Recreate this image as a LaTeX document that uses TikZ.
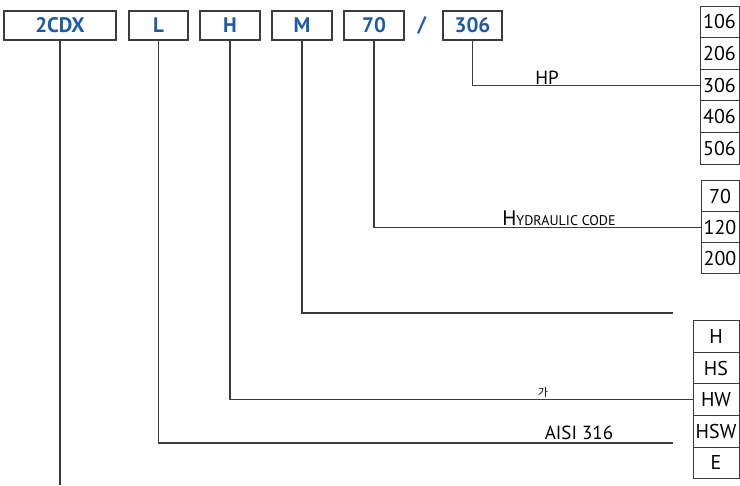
\documentclass[tikz,border=0pt]{standalone}
\usepackage{fontspec}
\setmainfont{PT Sans}
\newfontfamily\krfont{Noto Sans CJK KR}
\definecolor{codeblue}{HTML}{1F5AA6}
\definecolor{linegray}{HTML}{3C3C3C}
\tikzset{
	codebox/.style={draw=linegray, line width=1.2pt, minimum height=29pt, inner sep=0pt, text=codeblue, font=\fontsize{21}{22}\selectfont\bfseries},
	optbox/.style={draw=linegray, line width=1pt, minimum height=31.6pt, inner sep=0pt, font=\fontsize{20}{22}\selectfont},
	conn/.style={draw=linegray, line width=1.3pt},
	lbl/.style={inner sep=1.5pt, font=\fontsize{19}{20}\selectfont},
}
\begin{document}
\begin{tikzpicture}[x=1pt, y=-1pt]
		\useasboundingbox (0,0) rectangle (740,486);
		% Codigo
			\node[codebox, minimum width=112pt] (cdx) at (60,25.5) {2CDX};
			\node[codebox, minimum width=59pt] (cl) at (158.5,25.5) {L};
			\node[codebox, minimum width=60pt] (ch) at (230,25.5) {H};
			\node[codebox, minimum width=60pt] (cm) at (302,25.5) {M};
			\node[codebox, minimum width=60pt] (c70) at (374,25.5) {70};
			\node[lbl, text=codeblue, font=\fontsize{21}{22}\selectfont\bfseries] (slash) at (422,25.5) {/};
			\node[codebox, minimum width=59pt] (c306) at (472.5,25.5) {306};
		% Opciones
			% HP
				\foreach \v [count=\i from 0] in {106,206,306,406,506}
					\node[optbox, minimum width=39pt] (hp\v) at (719.5,22+31.6*\i) {\v};
			% Hydraulic code
				\foreach \v [count=\i from 0] in {70,120,200}
					\node[optbox, minimum width=38pt, minimum height=31pt] (hc\v) at (720,196.5+31*\i) {\v};
			% Materiales
				\foreach \v [count=\i from 0] in {H,HS,HW,HSW,E}
					\node[optbox, minimum width=46pt] (mt\v) at (716,336.5+31.6*\i) {\v};
		% Extremos libres
			\coordinate (mend) at (673,313);
			\coordinate (lend) at (673,443);
			\coordinate (cdxend) at (60,485);
		% Lineas
			\draw[conn] (c306.south) |- (hp306.west);
			\draw[conn] (c70.south) |- (hc120.west);
			\draw[conn] (cm.south) |- (mend);
			\draw[conn] (ch.south) |- (mtHW.west);
			\draw[conn] (cl.south) |- (lend);
			\draw[conn] (cdx.south) -- (cdxend);
		% Etiquetas
			\node[lbl, above] (hplbl) at (547,86) {HP};
			\node[lbl, above] (hclbl) at (559,227.5) {{\fontsize{21}{22}\selectfont H}{\fontsize{14}{16}\selectfont YDRAULIC CODE}};
			\node[lbl, above, font=\fontsize{11}{12}\krfont] (krlbl) at (543,399) {가};
			\node[lbl, above=2pt] (aisilbl) at (579,443) {AISI 316};
	\end{tikzpicture}
\end{document}
